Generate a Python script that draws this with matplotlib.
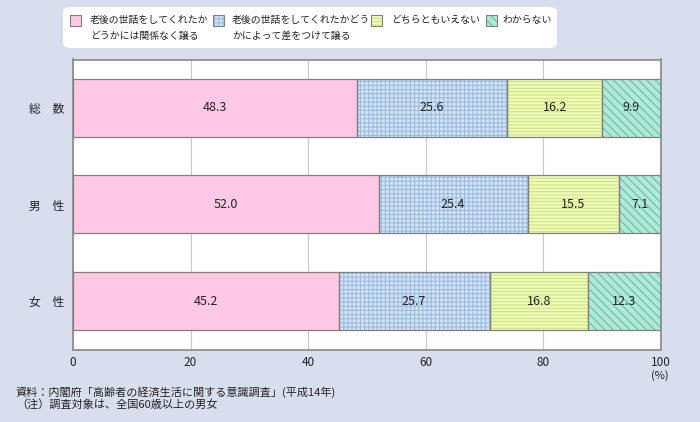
import matplotlib.pyplot as plt
from matplotlib.patches import Rectangle, FancyBboxPatch
import numpy as np

plt.rcParams['font.family'] = ['Noto Sans CJK JP', 'DejaVu Sans']
plt.rcParams['hatch.linewidth'] = 0.8

categories = ["総　数", "男　性", "女　性"]
series_names = [
    "老後の世話をしてくれたか\nどうかには関係なく譲る",
    "老後の世話をしてくれたかどう\nかによって差をつけて譲る",
    "どちらともいえない",
    "わからない",
]
values = [
    [48.3, 52.0, 45.2],
    [25.6, 25.4, 25.7],
    [16.2, 15.5, 16.8],
    [9.9, 7.1, 12.3],
]
x_ticks = [0, 20, 40, 60, 80, 100]

# face colour, hatch colour, hatch pattern
styles = [
    ("#FFC8E4", "#FFC8E4", None),
    ("#D4E4F6", "#9CBCE0", "++++"),
    ("#F2FAC0", "#C8E878", "-----"),
    ("#B4E8D8", "#5CC4A4", "\\\\\\\\"),
]

BG = "#D9DEEE"
W, H = 700, 422
fig = plt.figure(figsize=(7, 4.22), dpi=100, facecolor=BG)
ax = fig.add_axes([73 / W, 1 - 349.5 / H, 587.5 / W, 290 / H])
ax.set_facecolor("white")

y = np.arange(len(categories))
left = np.zeros(len(categories))
for name, vals, (fc, hc, hatch) in zip(series_names, values, styles):
    vals = np.array(vals)
    ax.barh(y, vals, left=left, height=0.6, color=fc, edgecolor=hc, hatch=hatch, linewidth=0, zorder=2)
    ax.barh(y, vals, left=left, height=0.6, color="none", edgecolor="#808080", linewidth=0.9, zorder=3)
    for yi, l, v in zip(y, left, vals):
        ax.text(l + v / 2, yi, f"{v:.1f}", ha="center", va="center", fontsize=9, color="#222222", zorder=4)
    left = left + vals

ax.set_xlim(0, 100)
ax.set_ylim(2.5, -0.5)
ax.set_xticks(x_ticks)
ax.set_xticklabels([str(t) for t in x_ticks], fontsize=8.5, color="#222222")
ax.set_yticks(y)
ax.set_yticklabels(categories, fontsize=8.5, color="#222222")
ax.tick_params(axis="x", length=0, pad=5)
ax.tick_params(axis="y", length=0, pad=6)
ax.xaxis.grid(True, color="#C8C8C8", linewidth=0.8, zorder=1)
ax.set_axisbelow(True)
for s in ax.spines.values():
    s.set_color("#888888")
    s.set_linewidth(1.2)

fig.text(660 / W, 1 - 376 / H, "(%)", ha="center", va="center", fontsize=8, color="#222222")

fig.text(16 / W, 1 - 392 / H, "資料：内閣府「高齢者の経済生活に関する意識調査」(平成14年)",
         ha="left", va="center", fontsize=8, color="#222222")
fig.text(16 / W, 1 - 404 / H, "（注）調査対象は、全国60歳以上の男女",
         ha="left", va="center", fontsize=8, color="#222222")

# legend box, drawn by hand
box = FancyBboxPatch((63 / W, 1 - 48 / H), 494 / W, 41 / H,
                     boxstyle="round,pad=0,rounding_size=0.012",
                     transform=fig.transFigure, facecolor="white", edgecolor="none")
fig.patches.append(box)
patch_x = [70, 213, 371, 486]
text_x = [90, 232, 391, 502]
for name, (fc, hc, hatch), px, tx in zip(series_names, styles, patch_x, text_x):
    r = Rectangle((px / W, 1 - 26 / H), 11 / W, 11 / H, transform=fig.transFigure,
                  facecolor=fc, edgecolor=hc, hatch=hatch, linewidth=0)
    fig.patches.append(r)
    fig.patches.append(Rectangle((px / W, 1 - 26 / H), 11 / W, 11 / H, transform=fig.transFigure,
                                 facecolor="none", edgecolor="#808080", linewidth=0.8))
    fig.text(tx / W, 1 - 14.5 / H, name, ha="left", va="top", fontsize=7.1,
             color="#222222", linespacing=1.75)

fig.savefig("out.png", dpi=100, facecolor=BG)
